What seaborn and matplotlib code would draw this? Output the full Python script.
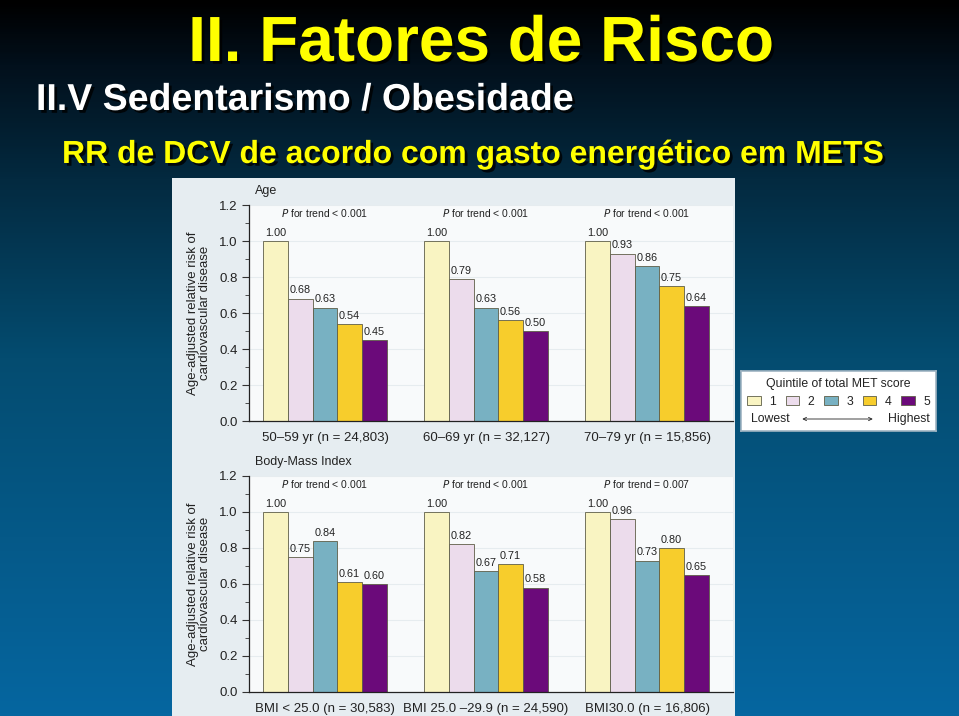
import numpy as np
import pandas as pd
import matplotlib
matplotlib.use("Agg")
import matplotlib.pyplot as plt
import matplotlib.patheffects as pe
from matplotlib.colors import LinearSegmentedColormap
from matplotlib.patches import Rectangle
import seaborn as sns

# ---------- data ----------
quintiles = ["1", "2", "3", "4", "5"]
age_groups = ["50–59 yr (n = 24,803)", "60–69 yr (n = 32,127)", "70–79 yr (n = 15,856)"]
age_rr = [
    [1.00, 0.68, 0.63, 0.54, 0.45],
    [1.00, 0.79, 0.63, 0.56, 0.50],
    [1.00, 0.93, 0.86, 0.75, 0.64],
]
age_p = ["< 0.001", "< 0.001", "< 0.001"]

bmi_groups = ["BMI < 25.0 (n = 30,583)", "BMI 25.0 –29.9 (n = 24,590)", "BMI30.0 (n = 16,806)"]
bmi_rr = [
    [1.00, 0.75, 0.84, 0.61, 0.60],
    [1.00, 0.82, 0.67, 0.71, 0.58],
    [1.00, 0.96, 0.73, 0.80, 0.65],
]
bmi_p = ["< 0.001", "< 0.001", "= 0.007"]

palette = ["#f9f4c2", "#ecdcec", "#78b1c2", "#f7cd2c", "#6b0a7a"]

sns.set_theme(style="white")
plt.rcParams["font.family"] = ["Liberation Sans", "DejaVu Sans"]

W, H = 959, 716
fig = plt.figure(figsize=(W / 100, H / 100), dpi=100)


def fx(px):
    return px / W


def fy(py):
    return 1 - py / H


# ---------- slide background gradient ----------
bg = fig.add_axes([0, 0, 1, 1], zorder=-5)
bg.set_axis_off()
cmap = LinearSegmentedColormap.from_list(
    "slide",
    [(0.0, "#000000"), (0.09, "#02101c"), (0.25, "#032a40"),
     (0.5, "#044c70"), (1.0, "#0666a0")],
)
grad = np.linspace(0, 1, 400).reshape(-1, 1)
bg.imshow(grad, aspect="auto", cmap=cmap, extent=[0, 1, 0, 1], origin="upper")
bg.set_xlim(0, 1)
bg.set_ylim(0, 1)
# embedded figure panel
bg.add_patch(Rectangle((fx(172), 0), fx(735) - fx(172), fy(178),
                       facecolor="#e6edf1", edgecolor="none", zorder=2))

# titles
shadow = [pe.withSimplePatchShadow(offset=(2, -2), shadow_rgbFace="#000000", alpha=0.8)]
fig.text(fx(481), fy(44), "II. Fatores de Risco", color="#ffff00", fontsize=46,
         fontweight="bold", ha="center", va="center", path_effects=shadow)
fig.text(fx(36), fy(100), "II.V Sedentarismo / Obesidade", color="white", fontsize=27,
         fontweight="bold", ha="left", va="center", path_effects=shadow)
fig.text(fx(62), fy(155), "RR de DCV de acordo com gasto energético em METS", color="#ffff00",
         fontsize=23, fontweight="bold", ha="left", va="center", path_effects=shadow)


def draw_panel(ax, groups, rr, pvals, title):
    df = pd.DataFrame(
        [(g, q, v) for g, row in zip(groups, rr) for q, v in zip(quintiles, row)],
        columns=["group", "quintile", "rr"],
    )
    sns.barplot(data=df, x="group", y="rr", hue="quintile", palette=palette, saturation=1,
                width=0.765, edgecolor="#5e5e48", linewidth=0.6, ax=ax, legend=True)
    ax.set_facecolor("#f8fafb")
    ax.set_ylim(0, 1.2)
    ax.set_xlim(-0.472, 2.534)
    ax.set_yticks(np.arange(0, 1.21, 0.2))
    ax.set_yticks(np.arange(0, 1.21, 0.1), minor=True)
    ax.set_yticklabels([f"{t:.1f}" for t in np.arange(0, 1.21, 0.2)], fontsize=9.5, color="#222222")
    ax.tick_params(axis="y", which="major", left=True, length=5, width=0.8, color="#333333", pad=3)
    ax.tick_params(axis="y", which="minor", left=True, length=3, width=0.6, color="#333333")
    ax.tick_params(axis="x", bottom=False, labelsize=9.5, labelcolor="#222222", pad=2)
    ax.yaxis.grid(True, color="#e6ecef", linewidth=0.8)
    ax.set_axisbelow(True)
    for s in ["top", "right"]:
        ax.spines[s].set_visible(False)
    for s in ["left", "bottom"]:
        ax.spines[s].set_color("#222222")
        ax.spines[s].set_linewidth(0.9)
    ax.set_xlabel("")
    ax.set_ylabel("Age-adjusted relative risk of\ncardiovascular disease", fontsize=9.5,
                  color="#222222", labelpad=6, linespacing=1.0)
    for cont in ax.containers:
        for bar in cont:
            h = bar.get_height()
            ax.text(bar.get_x() + 0.01, h + 0.018, f"{h:.2f}", fontsize=7.8,
                    color="#222222", ha="left", va="bottom")
    for i, p in enumerate(pvals):
        ax.text(i, 1.155, r"$\it{P}$" + f" for trend {p}", fontsize=7.5,
                color="#222222", ha="center", va="center")
    ax.text(0.012, 1.035, title, transform=ax.transAxes, fontsize=9, color="#222222",
            ha="left", va="bottom")
    handles, labels = ax.get_legend_handles_labels()
    ax.get_legend().remove()
    return handles, labels


ax1 = fig.add_axes([fx(249), fy(421), fx(733) - fx(249), fy(205) - fy(421)])
handles, labels = draw_panel(ax1, age_groups, age_rr, age_p, "Age")

ax2 = fig.add_axes([fx(249), fy(692), fx(733) - fx(249), fy(476) - fy(692)])
draw_panel(ax2, bmi_groups, bmi_rr, bmi_p, "Body-Mass Index")

# ---------- legend box ----------
lax = fig.add_axes([fx(741), fy(431), fx(936) - fx(741), fy(371) - fy(431)])
lax.set_xlim(0, 1)
lax.set_ylim(0, 1)
lax.set_xticks([])
lax.set_yticks([])
lax.set_facecolor("white")
for s in lax.spines.values():
    s.set_color("#9fb4c2")
    s.set_linewidth(1.2)
leg = lax.legend(handles, labels, title="Quintile of total MET score", ncol=5, loc="upper center",
                 bbox_to_anchor=(0.5, 1.05), frameon=False, fontsize=8.8, title_fontsize=8.8,
                 handlelength=1.1, handleheight=0.8, handletextpad=0.7, columnspacing=0.8,
                 borderpad=0.3)
for t in leg.get_texts():
    t.set_color("#222222")
leg.get_title().set_color("#222222")
lax.text(0.05, 0.2, "Lowest", fontsize=8.8, color="#222222", ha="left", va="center")
lax.text(0.97, 0.2, "Highest", fontsize=8.8, color="#222222", ha="right", va="center")
lax.annotate("", xy=(0.30, 0.2), xytext=(0.69, 0.2),
             arrowprops=dict(arrowstyle="<->", color="#222222", lw=0.6, mutation_scale=6))

fig.savefig("out.png", dpi=100)
